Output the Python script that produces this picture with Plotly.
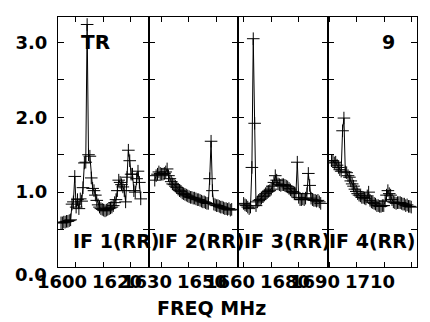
import numpy as np
import plotly.graph_objects as go

# channel width (MHz) and first-channel frequency of each IF
CHAN_WIDTH = 0.5
IF_START_MHZ = [1599.7, 1632.7, 1664.95, 1695.9]
IF_NAMES = ["IF 1(RR)", "IF 2(RR)", "IF 3(RR)", "IF 4(RR)"]

# amplitude spectra, one list per IF
IF1_AMP = [0.59, 0.59, 0.60, 0.60, 0.61, 0.61, 0.62, 0.63, 0.84, 0.87,
           1.21, 0.80, 0.90, 0.78, 0.91, 0.88, 1.06, 1.39, 1.40, 3.24,
           1.50, 1.48, 1.19, 1.05, 1.02, 0.96, 0.89, 0.83, 0.80, 0.78,
           0.77, 0.76, 0.75, 0.76, 0.77, 0.78, 0.79, 0.80, 0.82, 0.86,
           0.90, 1.02, 1.16, 1.13, 1.10, 1.07, 1.02, 0.87, 1.20, 1.56,
           1.42, 1.24, 1.24, 1.02, 1.00, 1.18, 1.28, 1.13, 0.91]
IF2_AMP = [1.16, 1.22, 1.24, 1.27, 1.25, 1.24, 1.24, 1.25, 1.27, 1.31,
           1.22, 1.18, 1.14, 1.11, 1.10, 1.08, 1.06, 1.04, 1.02, 1.01,
           0.99, 0.98, 0.97, 0.96, 0.95, 0.94, 0.93, 0.93, 0.92, 0.92,
           0.91, 0.90, 0.90, 0.89, 0.88, 0.87, 0.87, 0.86, 0.85, 0.85,
           1.18, 1.68, 1.02, 0.84, 0.83, 0.82, 0.82, 0.81, 0.80, 0.80,
           0.79, 0.78, 0.78, 0.77, 0.78, 0.76, 0.77]
IF3_AMP = [0.85, 0.83, 0.82, 0.80, 0.78, 0.80, 1.33, 3.05, 1.92, 0.82,
           0.87, 0.89, 0.90, 0.92, 0.94, 0.96, 0.98, 1.00, 1.01, 1.02,
           1.04, 1.08, 1.13, 1.22, 1.16, 1.11, 1.10, 1.09, 1.10, 1.10,
           1.09, 1.08, 1.07, 1.05, 1.03, 1.01, 1.00, 0.99, 0.98, 1.40,
           0.93, 0.90, 0.90, 0.91, 0.90, 0.92, 0.98, 1.25, 1.09, 0.92,
           0.90, 0.89, 0.89, 0.88, 0.89, 0.87, 0.85]
IF4_AMP = [1.42, 1.42, 1.39, 1.40, 1.36, 1.33, 1.30, 1.28, 1.82, 1.99,
           1.27, 1.26, 1.22, 1.20, 1.15, 1.11, 1.08, 1.04, 1.01, 0.98,
           0.96, 0.95, 0.93, 0.93, 0.92, 0.91, 0.95, 1.00, 0.89, 0.87,
           0.86, 0.85, 0.84, 0.82, 0.82, 0.81, 0.81, 0.82, 0.82, 0.88,
           0.96, 1.02, 0.98, 0.96, 0.90, 0.87, 0.86, 0.85, 0.86, 0.86,
           0.86, 0.85, 0.84, 0.84, 0.82, 0.83, 0.81, 0.81, 0.80]
AMPS = [IF1_AMP, IF2_AMP, IF3_AMP, IF4_AMP]

# frequency axis of each panel (MHz), ticks and labels
PANEL_RANGES = [(1598.6, 1631.7), (1630.6, 1663.0), (1662.9, 1695.6), (1694.6, 1727.0)]
PANEL_TICKS = [[1605, 1615, 1625], [1635, 1645, 1655], [1665, 1675, 1685], [1695, 1705, 1715, 1725]]
PANEL_LABELS = [[1600, 1620], [1630, 1650], [1660, 1680], [1690, 1710]]

Y_TICKS = [0.0, 0.5, 1.0, 1.5, 2.0, 2.5, 3.0]
Y_TICKTEXT = ["", "", "1.0", "", "2.0", "", "3.0"]
Y_MAX = 3.34

FONT = "DejaVu Sans"
BODY = 8  # page body margin of the browser
W, H = 430 - BODY, 322 - BODY
ML, MR, MT, MB = 54 - BODY, 13, 16 - BODY, 55
PLOT_LEFT = 54  # window pixels


def bold(size):
    return dict(family=FONT, size=size, color="black", weight="bold")


def main():
    fig = go.Figure()
    plot_w = W - ML - MR
    plot_h = H - MT - MB
    edges_px = [0, 92, 182, 273, plot_w]
    doms = [[edges_px[k] / plot_w, edges_px[k + 1] / plot_w] for k in range(4)]

    def px_x(px):
        return (px - PLOT_LEFT) / plot_w

    def px_y(py):
        return (267 - py) / plot_h

    for k in range(4):
        sfx = "" if k == 0 else str(k + 1)
        amp = AMPS[k]
        freq = IF_START_MHZ[k] + CHAN_WIDTH * np.arange(len(amp))
        fig.add_trace(
            go.Scatter(
                x=freq, y=amp, mode="lines+markers",
                xaxis="x" + sfx, yaxis="y" + sfx,
                line=dict(color="black", width=1),
                marker=dict(symbol="cross-thin", size=9,
                            line=dict(color="black", width=1)),
                showlegend=False,
            )
        )
        fig.layout["xaxis" + sfx] = dict(
            domain=doms[k], range=list(PANEL_RANGES[k]), anchor="y" + sfx,
            tickmode="array", tickvals=PANEL_TICKS[k], showticklabels=False,
            ticks="inside", ticklen=5, tickcolor="black",
            showline=True, linecolor="black", linewidth=1, mirror="ticks",
            showgrid=False, zeroline=False,
        )
        fig.layout["yaxis" + sfx] = dict(
            domain=[0, 1], range=[0, Y_MAX], anchor="x" + sfx,
            tickmode="array", tickvals=Y_TICKS, ticktext=Y_TICKTEXT,
            showticklabels=(k == 0), ticklabelstandoff=6,
            tickfont=bold(18),
            ticks="inside", ticklen=6, tickcolor="black",
            showline=True, linecolor="black", linewidth=1, mirror="ticks",
            showgrid=False, zeroline=False,
        )
        # frequency labels may sit outside their panel's range, so place in paper units
        r0, r1 = PANEL_RANGES[k]
        d0, d1 = doms[k]
        for v in PANEL_LABELS[k]:
            fig.add_annotation(
                x=d0 + (v - r0) / (r1 - r0) * (d1 - d0), xref="paper", xanchor="center",
                y=0, yref="paper", yanchor="top", yshift=-2,
                text=str(v), showarrow=False, font=bold(18),
            )

    # IF names along the bottom of the panels
    name_x = [113, 199, 286, 372]
    for nx, name in zip(name_x, IF_NAMES):
        fig.add_annotation(
            x=px_x(nx), xref="paper", xanchor="center",
            y=px_y(241), yref="paper", yanchor="middle",
            text=name, showarrow=False, font=bold(19),
        )

    fig.add_annotation(x=0, xref="paper", y=0, yref="y", xanchor="right",
                       xshift=-9, yshift=-7, text="0.0", showarrow=False, font=bold(18))
    fig.add_annotation(x=px_x(92), xref="paper", xanchor="center",
                       y=px_y(41), yref="paper", yanchor="middle",
                       text="TR", showarrow=False, font=bold(20))
    fig.add_annotation(x=px_x(388), xref="paper", xanchor="center",
                       y=px_y(41), yref="paper", yanchor="middle",
                       text="9", showarrow=False, font=bold(19))
    fig.add_annotation(x=px_x(209), xref="paper", xanchor="center",
                       y=px_y(308), yref="paper", yanchor="middle",
                       text="FREQ MHz", showarrow=False, font=bold(19))

    fig.update_layout(
        width=W, height=H,
        margin=dict(l=ML, r=MR, t=MT, b=MB),
        paper_bgcolor="white", plot_bgcolor="white",
    )
    fig.write_html("out.html")


if __name__ == "__main__":
    main()
